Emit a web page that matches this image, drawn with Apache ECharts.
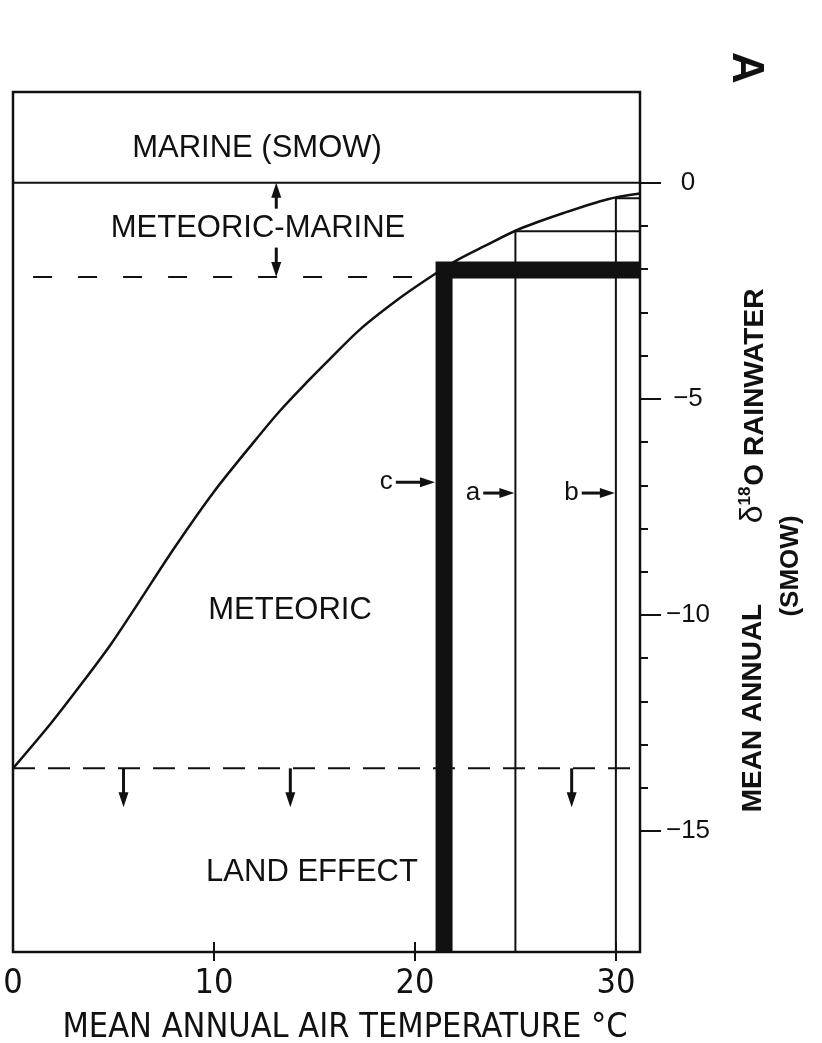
<!DOCTYPE html>
<html>
<head>
<meta charset="utf-8">
<script src="https://cdn.jsdelivr.net/npm/echarts@6/dist/echarts.min.js"></script>
<style>
html, body { margin: 0; padding: 0; background: #fff; }
#chart { width: 822px; height: 1043px; }
</style>
</head>
<body>
<div id="chart"></div>
<script>
// mean annual air temperature (°C) against mean annual d18O of rainwater (SMOW)
var curveTemp  = [0, 1.9, 3.4, 4.9, 6.2, 8.0, 10.0, 12.0, 13.3, 14.7, 15.7, 17.3, 19.3, 20.9, 22.1, 23.4, 25.2, 27.4, 29.6, 31.2];
var curveDelta = [-13.55, -12.5, -11.6, -10.66, -9.75, -8.47, -7.15, -5.99, -5.27, -4.58, -4.11, -3.38, -2.65, -2.14, -1.79, -1.48, -1.07, -0.7, -0.38, -0.25];

var tempMin = 0, tempMax = 31.2;
var deltaMin = -17.8, deltaMax = 2.1;

var marineLevel = 0;
var meteoricMarineLevel = -2.18;   // dashed, from left edge to the curve
var meteoricMarineStart = 1.0;
var meteoricMarineEnd = 20.85;
var landEffectLevel = -13.55;      // dashed, across the plot

// vertical lines: [temperature, delta where they meet the curve]
var lineA = [25, -1.12];
var lineB = [30, -0.36];
var lineC = [21.45, -2.02];

// arrows: [fromTemp, fromDelta, toTemp, toDelta]
var boundaryArrows = [
  [13.1, -0.6, 13.1, 0],
  [13.1, -1.5, 13.1, -2.18],
  [5.5, -13.55, 5.5, -14.45],
  [13.8, -13.55, 13.8, -14.45],
  [27.8, -13.55, 27.8, -14.45]
];
var lineArrowNames = ['c', 'a', 'b'];
var lineArrows = [
  [19.05, -6.93, 21.0, -6.93],
  [23.4, -7.18, 24.95, -7.18],
  [28.3, -7.18, 29.95, -7.18]
];

var tempTicks = [10, 20, 30];
var tempLabels = [0, 10, 20, 30];
var deltaMajor = [0, -5, -10, -15];
var deltaMinor = [-1, -2, -3, -4, -6, -7, -8, -9, -11, -12, -13, -14];

var INK = '#111';
var SANS = "'Liberation Sans', Arial, Helvetica, sans-serif";
var NARROW = "'Liberation Sans Narrow', 'DejaVu Sans Condensed', sans-serif";

function pairs(xs, ys) {
  return xs.map(function (x, i) { return [x, ys[i]]; });
}

function elbow(line) {
  return [[line[0], deltaMin], [line[0], line[1]], [tempMax, line[1]]];
}

function renderArrow(names) {
  return function (params, api) {
    var p0 = api.coord([api.value(0), api.value(1)]);
    var p1 = api.coord([api.value(2), api.value(3)]);
    var dx = p1[0] - p0[0], dy = p1[1] - p0[1];
    var len = Math.sqrt(dx * dx + dy * dy);
    var ux = dx / len, uy = dy / len;
    var headLen = 15, headW = 5;
    var bx = p1[0] - ux * headLen, by = p1[1] - uy * headLen;
    var children = [
      { type: 'line', shape: { x1: p0[0], y1: p0[1], x2: bx + ux, y2: by + uy },
        style: { stroke: INK, lineWidth: 3 } },
      { type: 'polygon',
        shape: { points: [[p1[0], p1[1]], [bx - uy * headW, by + ux * headW], [bx + uy * headW, by - ux * headW]] },
        style: { fill: INK } }
    ];
    if (names) {
      children.push({
        type: 'text', x: p0[0] - 3, y: p0[1],
        style: { text: names[params.dataIndex], font: '26px ' + SANS, fill: INK,
                 align: 'right', verticalAlign: 'middle' }
      });
    }
    return { type: 'group', children: children };
  };
}

var chart = echarts.init(document.getElementById('chart'));

var option = {
  animation: false,
  backgroundColor: '#fff',
  grid: {
    left: 13, top: 92, width: 627, height: 860,
    show: true, borderColor: INK, borderWidth: 2.5, backgroundColor: 'transparent',
    containLabel: false, outerBoundsMode: 'none'
  },
  xAxis: [
    {
      type: 'value', min: tempMin, max: tempMax, position: 'bottom',
      axisLine: { show: false, onZero: false }, splitLine: { show: false },
      axisTick: { show: true, inside: true, length: 10, customValues: tempTicks,
                  lineStyle: { color: INK, width: 2 } },
      axisLabel: { show: true, customValues: tempLabels, margin: 15,
                   fontSize: 34, fontFamily: NARROW, color: INK }
    },
    {
      type: 'value', min: tempMin, max: tempMax, position: 'bottom',
      axisLine: { show: false, onZero: false }, splitLine: { show: false },
      axisTick: { show: true, inside: false, length: 9, customValues: tempTicks,
                  lineStyle: { color: INK, width: 2 } },
      axisLabel: { show: false }
    }
  ],
  yAxis: [
    {
      type: 'value', min: deltaMin, max: deltaMax, position: 'right',
      axisLine: { show: false, onZero: false }, splitLine: { show: false },
      axisTick: { show: true, length: 21, customValues: deltaMajor,
                  lineStyle: { color: INK, width: 2 } },
      axisLabel: {
        show: true, customValues: deltaMajor, margin: 48, align: 'center',
        fontSize: 26, fontFamily: SANS, color: INK,
        formatter: function (v) { return v < 0 ? '\u2212' + (-v) : String(v); }
      }
    },
    {
      type: 'value', min: deltaMin, max: deltaMax, position: 'right',
      axisLine: { show: false, onZero: false }, splitLine: { show: false },
      axisTick: { show: true, length: 8, customValues: deltaMinor,
                  lineStyle: { color: INK, width: 2 } },
      axisLabel: { show: false }
    }
  ],
  series: [
    {
      type: 'line', data: pairs(curveTemp, curveDelta), smooth: 0.3,
      symbol: 'none', lineStyle: { color: INK, width: 2.5 }
    },
    {
      type: 'line', data: [[tempMin, marineLevel], [tempMax, marineLevel]],
      symbol: 'none', lineStyle: { color: INK, width: 2 }
    },
    {
      type: 'line', data: [[meteoricMarineStart, meteoricMarineLevel], [meteoricMarineEnd, meteoricMarineLevel]],
      symbol: 'none', lineStyle: { color: INK, width: 2, type: [19, 26] }
    },
    {
      type: 'line', data: [[tempMin, landEffectLevel], [tempMax, landEffectLevel]],
      symbol: 'none', lineStyle: { color: INK, width: 2, type: [22, 13] }
    },
    {
      type: 'line', data: elbow(lineA), symbol: 'none',
      lineStyle: { color: INK, width: 2 }
    },
    {
      type: 'line', data: elbow(lineB), symbol: 'none',
      lineStyle: { color: INK, width: 2 }
    },
    {
      type: 'line', data: elbow(lineC), symbol: 'none',
      lineStyle: { color: INK, width: 17, join: 'miter', cap: 'butt' }
    },
    {
      type: 'custom', data: boundaryArrows, renderItem: renderArrow(null),
      encode: { x: [0, 2], y: [1, 3] }, silent: true, clip: false
    },
    {
      type: 'custom', data: lineArrows, renderItem: renderArrow(lineArrowNames),
      encode: { x: [0, 2], y: [1, 3] }, silent: true, clip: false
    }
  ],
  graphic: [
    { type: 'text', x: 257, y: 148, style: { text: 'MARINE (SMOW)', font: '31px ' + SANS, fill: INK, align: 'center', verticalAlign: 'middle' } },
    { type: 'text', x: 258, y: 228, style: { text: 'METEORIC-MARINE', font: '31px ' + SANS, fill: INK, align: 'center', verticalAlign: 'middle' } },
    { type: 'text', x: 290, y: 610, style: { text: 'METEORIC', font: '31px ' + SANS, fill: INK, align: 'center', verticalAlign: 'middle' } },
    { type: 'text', x: 312, y: 872, style: { text: 'LAND EFFECT', font: '31px ' + SANS, fill: INK, align: 'center', verticalAlign: 'middle' } },
    { type: 'text', x: 345, y: 1028, style: { text: 'MEAN ANNUAL AIR TEMPERATURE \u00B0C', font: '34px ' + NARROW, fill: INK, align: 'center', verticalAlign: 'middle' } },
    { type: 'text', x: 753, y: 708, rotation: Math.PI / 2,
      style: { text: 'MEAN ANNUAL', font: 'bold 28px ' + SANS, fill: INK, align: 'center', verticalAlign: 'middle' } },
    { type: 'text', x: 753, y: 406, rotation: Math.PI / 2,
      style: {
        text: '{d|\u03B4}{s|18}{n|O RAINWATER}', align: 'center', verticalAlign: 'middle',
        rich: {
          d: { font: '32px ' + SANS, fill: INK, verticalAlign: 'bottom' },
          s: { font: 'bold 17px ' + SANS, fill: INK, verticalAlign: 'top', padding: [0, 1, 12, 0] },
          n: { font: 'bold 28px ' + SANS, fill: INK, verticalAlign: 'bottom' }
        }
      } },
    { type: 'text', x: 791, y: 566, rotation: Math.PI / 2,
      style: { text: '(SMOW)', font: 'bold 26px ' + SANS, fill: INK, align: 'center', verticalAlign: 'middle' } },
    { type: 'text', x: 745, y: 68, rotation: -Math.PI / 2,
      style: { text: 'A', font: 'bold 44px ' + SANS, fill: INK, align: 'center', verticalAlign: 'middle' } }
  ]
};

chart.setOption(option);
</script>
</body>
</html>
